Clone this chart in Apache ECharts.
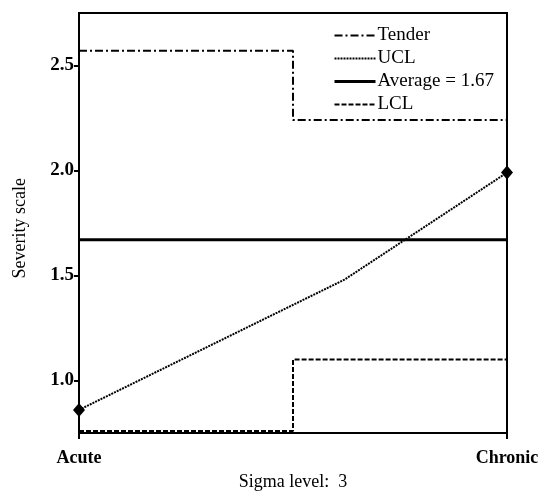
<!DOCTYPE html>
<html>
<head>
<meta charset="utf-8">
<script src="https://cdn.jsdelivr.net/npm/echarts@6/dist/echarts.min.js"></script>
<style>html,body{margin:0;padding:0;background:#fff}#c{width:540px;height:493px}</style>
</head>
<body>
<div id="c"></div>
<script>
// Data
var xCategories = ['Acute', 'Chronic'];
var yTicks = [1.0, 1.5, 2.0, 2.5];
var tenderX = [0, 0.62, 1];
var tenderY = [0.86, 1.48, 1.99];
var uclX = [0, 0.5, 1];
var uclY = [2.57, 2.24, 2.24];
var averageValue = 1.67;
var lclX = [0, 0.5, 1];
var lclY = [0.76, 1.10, 1.10];

function pairs(xs, ys) { return xs.map(function (x, i) { return [x, ys[i]]; }); }

var FONT = 'Liberation Serif';
var chart = echarts.init(document.getElementById('c'), null, { renderer: 'canvas' });

var tenderData = pairs(tenderX, tenderY).map(function (p, i) {
  return (i === 0 || i === tenderX.length - 1) ? { value: p } : { value: p, symbol: 'none' };
});

chart.setOption({
  animation: false,
  backgroundColor: '#fff',
  grid: { left: 79, top: 13, right: 33, bottom: 60, outerBoundsMode: 'none', containLabel: false,
    show: true, borderColor: '#000', borderWidth: 2, backgroundColor: 'transparent' },
  legend: {
    left: 333, top: 26, padding: 0, orient: 'vertical', itemWidth: 41, itemHeight: 14, itemGap: 4,
    textStyle: { fontFamily: FONT, fontSize: 19, color: '#000', padding: [0, 0, 0, -3] },
    itemStyle: { opacity: 0 },
    data: [
      { name: 'Tender', lineStyle: { type: [8, 3, 2, 3], width: 2, color: '#000' } },
      { name: 'UCL', lineStyle: { type: [2, 1], width: 2, color: '#000' } },
      { name: 'Average = 1.67', lineStyle: { type: 'solid', width: 3, color: '#000' } },
      { name: 'LCL', lineStyle: { type: [5, 2], width: 2, color: '#000' } }
    ]
  },
  xAxis: {
    type: 'value', min: 0, max: 1, interval: 1,
    name: 'Sigma level:  3', nameLocation: 'middle', nameGap: 40,
    nameTextStyle: { fontFamily: FONT, fontSize: 18, color: '#000' },
    axisLine: { lineStyle: { color: '#000', width: 2 } },
    axisTick: { show: true, length: 6, inside: false, lineStyle: { color: '#000', width: 2 } },
    axisLabel: { fontFamily: FONT, fontSize: 18, fontWeight: 'bold', color: '#000', margin: 16,
      formatter: function (v) { return v === 0 ? xCategories[0] : (v === 1 ? xCategories[1] : ''); } },
    splitLine: { show: false }
  },
  yAxis: {
    type: 'value', min: 0.75, max: 2.75, interval: 0.25,
    axisLine: { show: true, lineStyle: { color: '#000', width: 2 } },
    axisTick: { show: true, length: 5, lineStyle: { color: '#000', width: 2 }, customValues: yTicks },
    axisLabel: { fontFamily: FONT, fontSize: 19, fontWeight: 'bold', color: '#000', margin: 5, customValues: yTicks,
      formatter: function (v) { return v.toFixed(1); } },
    splitLine: { show: false }
  },
  graphic: [{
    type: 'text', left: 11, top: 178, rotation: Math.PI / 2,
    style: { text: 'Severity scale', fontFamily: FONT, fontSize: 18, fill: '#000' }
  }],
  series: [
    { name: 'Tender', type: 'line', data: tenderData, symbol: 'diamond', symbolSize: [12, 14],
      itemStyle: { color: '#000' }, lineStyle: { color: '#000', width: 2, type: [2, 1] }, z: 5 },
    { name: 'UCL', type: 'line', step: 'end', data: pairs(uclX, uclY), symbol: 'none',
      lineStyle: { color: '#000', width: 2, type: [8, 3, 2, 3] } },
    { name: 'Average = 1.67', type: 'line', data: [[0, averageValue], [1, averageValue]], symbol: 'none',
      lineStyle: { color: '#000', width: 3 } },
    { name: 'LCL', type: 'line', step: 'end', data: pairs(lclX, lclY), symbol: 'none',
      lineStyle: { color: '#000', width: 2, type: [5, 2] } }
  ]
});
</script>
</body>
</html>
